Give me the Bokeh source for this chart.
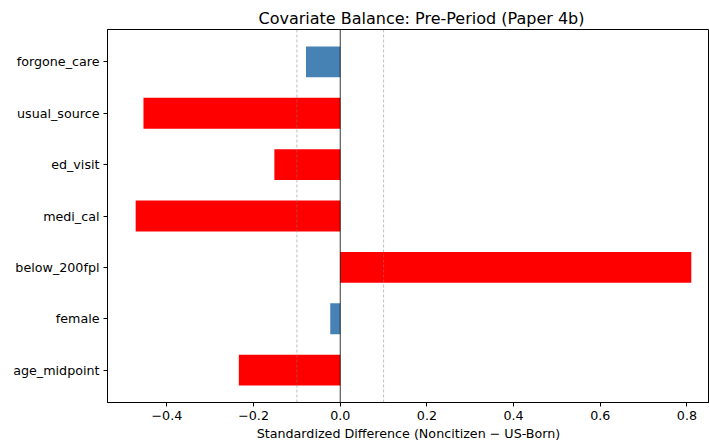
from bokeh.plotting import figure
from bokeh.models import Range1d, FixedTicker, ColumnDataSource, Span, Title
from bokeh.embed import file_html
from bokeh.resources import INLINE

# data (bottom to top)
features = ["age_midpoint", "female", "below_200fpl", "medi_cal", "ed_visit", "usual_source", "forgone_care"]
smd = [-0.234, -0.023, 0.810, -0.472, -0.152, -0.454, -0.079]
threshold = 0.1
x_ticks = [-0.4, -0.2, 0.0, 0.2, 0.4, 0.6, 0.8]
x_tick_labels = ["\u22120.4", "\u22120.2", "0.0", "0.2", "0.4", "0.6", "0.8"]
title_text = "Covariate Balance: Pre-Period (Paper 4b)"
xlabel_text = "Standardized Difference (Noncitizen \u2212 US-Born)"

ypos = list(range(len(features)))
colors = ["red" if abs(v) > threshold else "steelblue" for v in smd]
src = ColumnDataSource(dict(y=ypos, right=smd, color=colors))

FONT = "DejaVu Sans"
p = figure(width=709, height=448, output_backend="svg", toolbar_location=None,
           x_range=Range1d(-0.537, 0.852), y_range=Range1d(-0.63, 6.63),
           min_border_left=107, min_border_right=0, min_border_top=29, min_border_bottom=46)
p.title = Title(text=title_text, align="left", offset=151, standoff=3,
                text_font=FONT, text_font_size="16px", text_font_style="normal", text_color="black")

p.hbar(y="y", left=0, right="right", height=0.6, color="color", source=src, line_color=None)

for xv in (-threshold, threshold):
    p.add_layout(Span(location=xv, dimension="height", line_color="gray", line_alpha=0.5,
                      line_width=1, line_dash="3 2"))
p.add_layout(Span(location=0, dimension="height", line_color="black", line_width=0.8))

p.xgrid.visible = False
p.ygrid.visible = False
p.outline_line_color = "black"
p.outline_line_width = 1
p.background_fill_color = "white"
p.border_fill_color = "white"

p.xaxis.ticker = FixedTicker(ticks=x_ticks)
p.xaxis.major_label_overrides = {t: l for t, l in zip(x_ticks, x_tick_labels)}
p.xaxis.axis_label = xlabel_text
p.yaxis.ticker = FixedTicker(ticks=ypos)
p.yaxis.major_label_overrides = {i: f for i, f in zip(ypos, features)}

for ax in (p.xaxis[0], p.yaxis[0]):
    ax.minor_tick_line_color = None
    ax.major_tick_in = 0
    ax.major_tick_out = 4
    ax.major_tick_line_color = "black"
    ax.axis_line_color = "black"
    ax.major_label_text_font = FONT
    ax.major_label_text_font_size = "12.7px"
    ax.major_label_text_color = "black"
    ax.major_label_standoff = 4
    ax.axis_label_text_font = FONT
    ax.axis_label_text_font_size = "12.7px"
    ax.axis_label_text_font_style = "normal"
    ax.axis_label_text_color = "black"
    ax.axis_label_standoff = 3

open("out.html", "w").write(file_html(p, INLINE))
